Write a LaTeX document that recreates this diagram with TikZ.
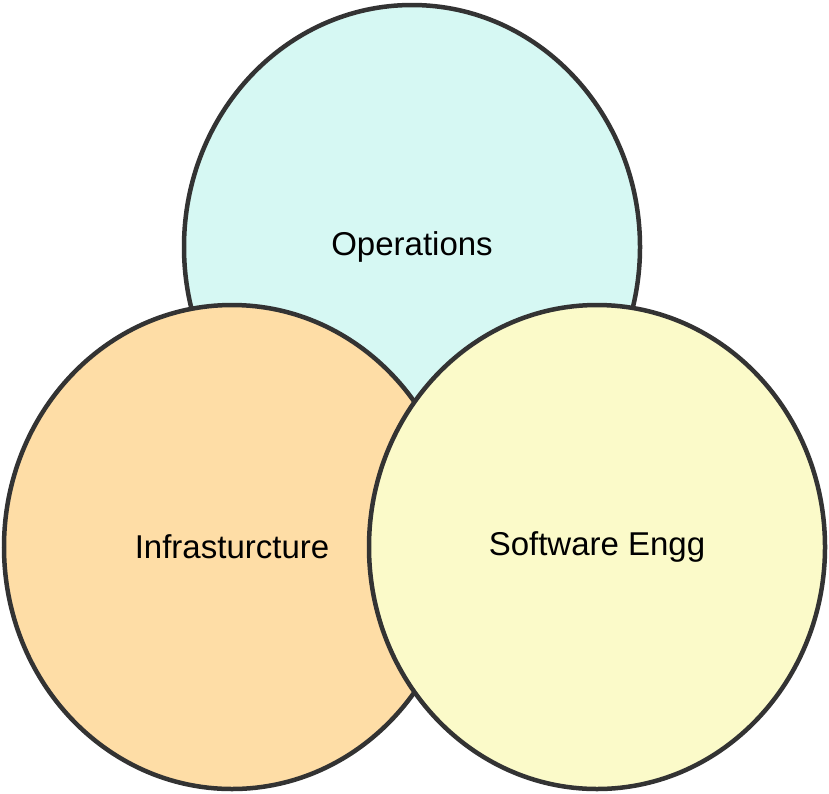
\documentclass[tikz,border=0pt]{standalone}
\usepackage{fontspec}
\setmainfont{Liberation Sans}
\usetikzlibrary{shapes.geometric}
\definecolor{opsfill}{HTML}{D6F8F3}
\definecolor{infrafill}{HTML}{FEDDA6}
\definecolor{swfill}{HTML}{FBFAC9}
\definecolor{rimgray}{HTML}{333333}
\tikzset{
  blob/.style={ellipse, draw=rimgray, line width=4.5pt, inner sep=0pt,
    minimum width=456pt, minimum height=484pt,
    font=\fontsize{33}{39}\selectfont}
}

\begin{document}
\begin{tikzpicture}[x=1pt,y=-1pt]
            \useasboundingbox (0,0) rectangle (829,793);
            \node[blob, fill=opsfill]   (ops)   at (412,247) {Operations};
            \node[blob, fill=infrafill] (infra) at (232,547) {Infrasturcture};
            \node[blob, fill=swfill]    (sw)    at (597,547) {Software Engg};
        \end{tikzpicture}
\end{document}
